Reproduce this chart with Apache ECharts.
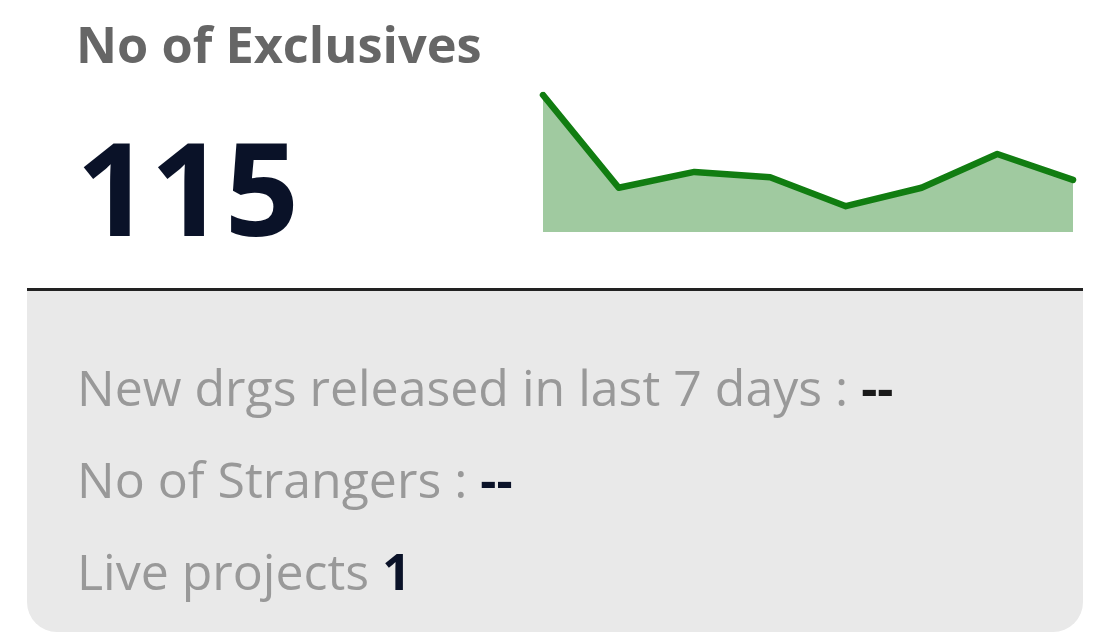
<!DOCTYPE html>
<html>
<head>
<meta charset="utf-8">
<script src="https://cdn.jsdelivr.net/npm/echarts@6/dist/echarts.min.js"></script>
<style>
html,body{margin:0;padding:0;background:#fff;}
#main{width:1101px;height:644px;}
</style>
</head>
<body>
<div id="main"></div>
<script>
// Data
const categories = ['D1','D2','D3','D4','D5','D6','D7','D8'];
const exclusivesTrend = [26, 8.4, 11.4, 10.4, 4.9, 8.4, 14.8, 9.9];
const kpiTitle = 'No of Exclusives';
const kpiValue = '115';
const detailLabels = ['New drgs released in last 7 days : ', 'No of Strangers : ', 'Live projects '];
const detailValues = ['--', '--', '1'];

const chart = echarts.init(document.getElementById('main'));
const FONT = '"Open Sans", "Noto Sans", sans-serif';

const detailTexts = detailLabels.map((lab, i) => ({
  type: 'text',
  x: 77,
  y: 392 + i * 92,
  z: 5,
  style: {
    text: '{a|' + lab + '}{b|' + detailValues[i] + '}',
    verticalAlign: 'middle',
    rich: {
      a: { fontFamily: FONT, fontWeight: 'normal', fontSize: 50, fill: '#999999' },
      b: { fontFamily: FONT, fontWeight: 'bold', fontSize: 50, fill: i === 0 ? '#1a1a1a' : '#0a1228' }
    }
  }
}));

chart.setOption({
  animation: false,
  grid: { left: 543, right: 28, top: 95, bottom: 412 },
  xAxis: { type: 'category', data: categories, boundaryGap: false, show: false },
  yAxis: { type: 'value', min: 0, max: 26, show: false },
  series: [{
    type: 'line',
    data: exclusivesTrend,
    symbol: 'none',
    lineStyle: { color: '#117d11', width: 6.5, cap: 'round', join: 'round' },
    areaStyle: { color: '#a0caa0', opacity: 1 },
    z: 3
  }],
  graphic: [
    { type: 'rect', shape: { x: 27, y: 290, width: 1056, height: 342, r: [0, 0, 30, 30] }, style: { fill: '#e9e9e9' }, z: 1 },
    { type: 'line', shape: { x1: 27, y1: 289.5, x2: 1083, y2: 289.5 }, style: { stroke: '#222', lineWidth: 3 }, z: 2 },
    { type: 'text', x: 76, y: 49, z: 5, style: { text: kpiTitle, verticalAlign: 'middle', fontFamily: FONT, fontWeight: 'bold', fontSize: 50.5, fill: '#666666' } },
    { type: 'text', x: 76, y: 199, z: 5, style: { text: kpiValue, verticalAlign: 'middle', fontFamily: FONT, fontWeight: 'bold', fontSize: 130, fill: '#0a1228' } }
  ].concat(detailTexts)
});
</script>
</body>
</html>
